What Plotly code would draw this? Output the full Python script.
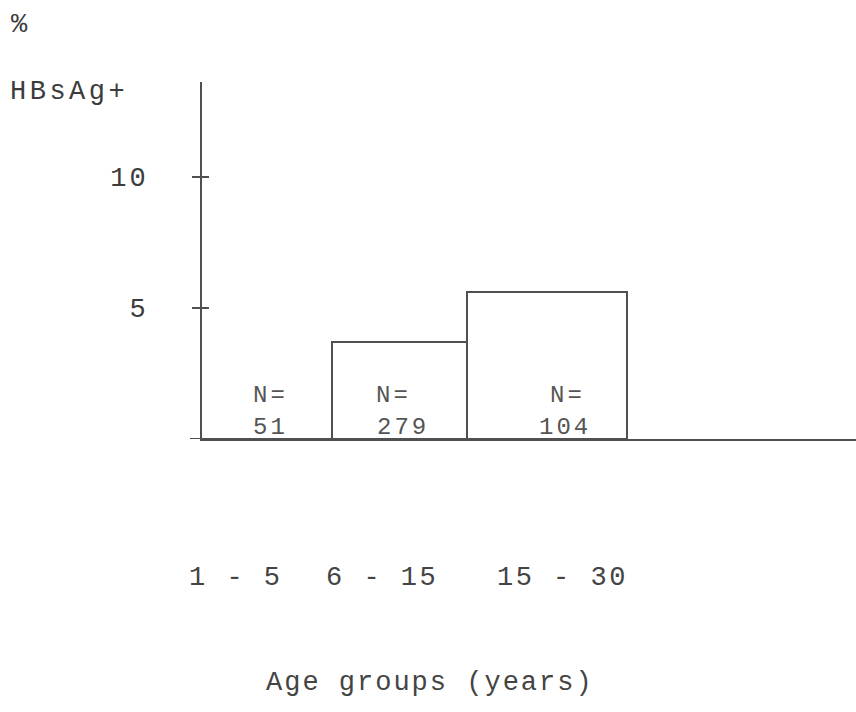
import plotly.graph_objects as go

# ---- data ----
age_groups = ["1 - 5", "6 - 15", "15 - 30"]
hbsag_pct = [0.0, 3.7, 5.6]
sample_n = [51, 279, 104]
y_ticks = [5, 10]
y_tick_labels = ["5", "10"]

# ---- layout constants (bar edges in axis units) ----
edges = [0.0, 1.0, 2.04, 3.27]
centers = [(edges[i] + edges[i + 1]) / 2 for i in range(3)]
widths = [edges[i + 1] - edges[i] for i in range(3)]
label_shift = [-31, -18, 15]
n_shift = [3, -6, 20]
num_shift = [3, 3, 18]

INK = "#3c3c3c"
FONT = "Liberation Mono"


def spaced(txt, px):
    return f'<span style="letter-spacing:{px}px">{txt}</span>'


fig = go.Figure()
fig.add_trace(go.Bar(
    x=centers, y=hbsag_pct, width=widths,
    marker=dict(color="rgba(255,255,255,0)", line=dict(color="#505050", width=2)),
    hoverinfo="skip", showlegend=False,
))

annotations = []
for c, n, s, s2 in zip(centers, sample_n, n_shift, num_shift):
    annotations.append(dict(
        x=c, y=0, xref="x", yref="y", text=spaced("N=", 3), showarrow=False,
        xanchor="center", yanchor="middle", xshift=s, yshift=44,
        font=dict(family=FONT, size=24, color="#555555"),
    ))
    annotations.append(dict(
        x=c, y=0, xref="x", yref="y", text=spaced(str(n), 3), showarrow=False,
        xanchor="center", yanchor="middle", xshift=s2, yshift=12,
        font=dict(family=FONT, size=24, color="#555555"),
    ))
for c, lab, s in zip(centers, age_groups, label_shift):
    annotations.append(dict(
        x=c, y=0, xref="x", yref="y", text=spaced(lab, 2.5), showarrow=False,
        xanchor="center", yanchor="middle", xshift=s, yshift=-139,
        font=dict(family=FONT, size=27, color="#444444"),
    ))
annotations += [
    dict(x=0.5, y=0, xref="paper", yref="paper", text=spaced("Age groups (years)", 2),
         showarrow=False, xanchor="center", yanchor="middle", xshift=-99, yshift=-244,
         font=dict(family=FONT, size=27, color="#444444")),
    dict(x=0, y=1, xref="paper", yref="paper", text=spaced("HBsAg+", 3.5), showarrow=False,
         xanchor="left", yanchor="middle", xshift=-194, yshift=-10,
         font=dict(family=FONT, size=27, color=INK)),
    dict(x=0, y=1, xref="paper", yref="paper", text="%", showarrow=False,
         xanchor="left", yanchor="middle", xshift=-193, yshift=57,
         font=dict(family=FONT, size=27, color=INK)),
]

shapes = [
    dict(type="line", xref="paper", yref="y", x0=-12 / 654, x1=0, y0=0, y1=0,
         line=dict(color="#505050", width=2)),
]
for t in y_ticks:
    shapes.append(dict(type="line", xref="paper", yref="y", x0=0, x1=7 / 654, y0=t, y1=t,
                       line=dict(color="#505050", width=2)))

fig.update_layout(
    width=856, height=712,
    margin=dict(l=202, r=0, t=82, b=273),
    paper_bgcolor="white", plot_bgcolor="white",
    bargap=0,
    xaxis=dict(range=[0, 654 / 130], showgrid=False, zeroline=False,
               showline=True, linecolor="#505050", linewidth=2,
               showticklabels=False, ticks=""),
    yaxis=dict(range=[0, 357 / 26.2], showgrid=False, zeroline=False,
               showline=True, linecolor="#505050", linewidth=2,
               tickvals=y_ticks, ticktext=[spaced(t, 3) for t in y_tick_labels],
               ticks="outside", ticklen=8, tickwidth=2, tickcolor="#505050",
               ticklabelstandoff=38,
               tickfont=dict(family=FONT, size=27, color=INK)),
    annotations=annotations,
    shapes=shapes,
)

fig.write_html("out.html", config={"displayModeBar": False},
               post_script="document.body.style.margin='0';")
